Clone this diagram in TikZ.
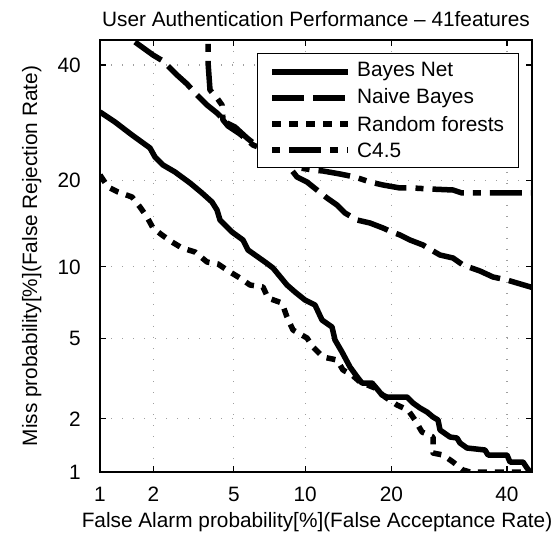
\documentclass[tikz,border=0pt]{standalone}
\usepackage{fontspec}
\setmainfont{Liberation Sans}
\begin{document}
\begin{tikzpicture}[x=1pt,y=-1pt,
  lbl/.style={font=\fontsize{20.8}{24}\selectfont,inner sep=0pt},
  gridline/.style={gray!75,line width=1.2pt,dash pattern=on 1.3pt off 9.7pt},
  tickmark/.style={black,line width=1.2pt},
  curve/.style={black,line width=5.5pt,line join=round},
  bnet/.style={curve},
  nbayes/.style={curve,dash pattern=on 32pt off 9pt},
  rforest/.style={curve,dash pattern=on 9pt off 8pt},
  cfour/.style={curve,dash pattern=on 8pt off 9pt on 32pt off 9pt},
]
\useasboundingbox (0,0) rectangle (559,534);
\fill[white] (0,0) rectangle (559,534);

% grid
\foreach \x in {153.3,233.8,305.1,391.4,506.9}
  \draw[gridline] (\x,40) -- (\x,472);
\foreach \y in {418.7,338.2,266.9,180.6,65.1}
  \draw[gridline] (100,\y) -- (532,\y);

% curves
\begin{scope}
\clip (100,40) rectangle (532,472);
\draw[nbayes] (135,42) -- (153,55) -- (163,61) -- (177,75) -- (187,84) -- (197,95) -- (207,105) -- (217,113) -- (227,123) -- (235,127) -- (247,138) -- (257,146) -- (290,168) -- (297,177) -- (307,182) -- (317,190) -- (327,198) -- (337,205) -- (345,213) -- (357,220) -- (370,223) -- (383,228) -- (392,232) -- (400,235) -- (410,240) -- (423,245) -- (433,251) -- (440,255) -- (453,258) -- (463,265) -- (480,271) -- (493,277) -- (507,280) -- (517,283) -- (534,288);
\draw[cfour] (208,44) -- (208,62) -- (210,90) -- (217,98) -- (222,105) -- (223,120) -- (228,126) -- (240,134) -- (253,145) -- (290,160) -- (300,168) -- (313,170) -- (323,171) -- (340,174) -- (355,177) -- (370,182) -- (383,185) -- (400,188) -- (413,188) -- (430,189) -- (453,190) -- (462,193) -- (534,193);
\draw[rforest] (100,175) -- (108,187) -- (118,192) -- (132,197) -- (140,207) -- (147,217) -- (153,228) -- (162,235) -- (172,242) -- (182,248) -- (195,252) -- (207,262) -- (218,264) -- (230,272) -- (240,278) -- (250,285) -- (263,287) -- (268,298) -- (282,303) -- (287,317) -- (293,330) -- (307,338) -- (313,347) -- (323,357) -- (337,360) -- (343,370) -- (352,375) -- (360,382) -- (375,388) -- (385,397) -- (397,405) -- (408,410) -- (415,420) -- (422,432) -- (433,437) -- (433,453) -- (443,455) -- (453,462) -- (463,470) -- (470,472) -- (534,472);
\draw[bnet] (100,112) -- (115,122) -- (132,135) -- (150,148) -- (155,157) -- (163,165) -- (175,172) -- (190,183) -- (202,193) -- (212,202) -- (217,210) -- (220,220) -- (232,232) -- (243,240) -- (248,250) -- (265,262) -- (273,268) -- (287,285) -- (295,292) -- (305,300) -- (315,305) -- (322,320) -- (332,327) -- (335,340) -- (342,352) -- (350,367) -- (358,378) -- (362,383) -- (372,383) -- (378,390) -- (382,395) -- (387,397) -- (407,397) -- (413,403) -- (420,408) -- (427,412) -- (433,417) -- (438,420) -- (440,430) -- (450,437) -- (457,438) -- (460,443) -- (467,448) -- (485,450) -- (488,455) -- (507,455) -- (510,462) -- (523,462) -- (527,468) -- (530,472);
\end{scope}

% ticks
\foreach \x in {153.3,233.8,305.1,391.4,506.9}{
  \draw[tickmark] (\x,472) -- (\x,466);
  \draw[tickmark] (\x,40) -- (\x,46);}
\foreach \y in {418.7,338.2,266.9,180.6,65.1}{
  \draw[tickmark] (100,\y) -- (106,\y);
  \draw[tickmark] (532,\y) -- (526,\y);}

% axes box
\draw[black,line width=1.4pt] (100,40) rectangle (532,472);

% legend
\node[draw=black,fill=white,line width=1.3pt,minimum width=261pt,minimum height=114pt,inner sep=0pt,anchor=north west] (legend) at (257,53) {};
\coordinate (l1a) at (272,72);  \coordinate (l1b) at (348,72);
\coordinate (l2a) at (272,98);  \coordinate (l2b) at (348,98);
\coordinate (l3a) at (272,124); \coordinate (l3b) at (348,124);
\coordinate (l4a) at (272,150); \coordinate (l4b) at (348,150);
\draw[bnet] (l1a) -- (l1b);
\draw[nbayes] (l2a) -- (l2b);
\draw[rforest] (l3a) -- (l3b);
\draw[cfour] (l4a) -- (l4b);
\node[lbl,anchor=west] (t1) at (357,72) {Bayes Net};
\node[lbl,anchor=west] (t2) at (357,98) {Naive Bayes};
\node[lbl,anchor=west] (t3) at (357,124) {Random forests};
\node[lbl,anchor=west] (t4) at (357,150) {C4.5};

% tick labels
\node[lbl,anchor=base] (x1) at (100,501) {1};
\node[lbl,anchor=base] (x2) at (153.3,501) {2};
\node[lbl,anchor=base] (x5) at (233.8,501) {5};
\node[lbl,anchor=base] (x10) at (305.1,501) {10};
\node[lbl,anchor=base] (x20) at (391.4,501) {20};
\node[lbl,anchor=base] (x40) at (506.9,501) {40};
\node[lbl,anchor=base east] (y1) at (81,479) {1};
\node[lbl,anchor=base east] (y2) at (81,426) {2};
\node[lbl,anchor=base east] (y5) at (81,345.5) {5};
\node[lbl,anchor=base east] (y10) at (81,274.2) {10};
\node[lbl,anchor=base east] (y20) at (81,187.9) {20};
\node[lbl,anchor=base east] (y40) at (81,72.4) {40};

% titles
\node[lbl,anchor=base] (title) at (316,27) {User Authentication Performance – 41features};
\node[lbl,anchor=base] (xlabel) at (317,527) {False Alarm probability[\%](False Acceptance Rate)};
\node[lbl,anchor=base,rotate=90] (ylabel) at (37,256) {Miss probability[\%](False Rejection Rate)};
\end{tikzpicture}
\end{document}
